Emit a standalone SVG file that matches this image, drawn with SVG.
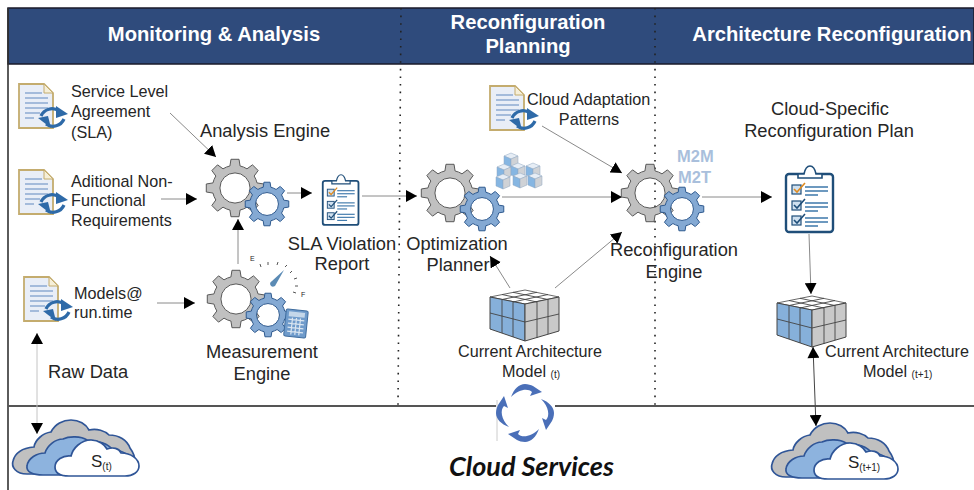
<svg xmlns="http://www.w3.org/2000/svg" xmlns:xlink="http://www.w3.org/1999/xlink" width="974" height="490" viewBox="0 0 974 490">
<style>
text{font-family:"Liberation Sans",Arial,sans-serif;fill:#262626;font-size:15px}
.c{text-anchor:middle}
.h{font-weight:bold;font-size:20.2px;fill:#fff;text-anchor:middle}
.l{font-size:16.2px}
.e{font-size:18.3px}
.sub{font-size:10px}
.conn line{stroke:#8a8a8a;stroke-width:1;marker-end:url(#ah)}
.conn .dbl{marker-start:url(#ahs)}
#gear{vector-effect:non-scaling-stroke}
.gr{fill:#c0c0c0;stroke:#595959;stroke-width:1;fill-rule:evenodd}
.gb{fill:#84a9d3;stroke:#2f5a8f;stroke-width:1;fill-rule:evenodd}
.dot{stroke:#222;stroke-width:1.6;stroke-dasharray:1.6 6;fill:none}
.dl{stroke:#7fa0cc;stroke-width:1.3}
</style>
<defs>
<marker id="ah" markerUnits="userSpaceOnUse" markerWidth="12" markerHeight="12" refX="11" refY="6" orient="auto"><path d="M0,0L11,6L0,12Z" fill="#000"/></marker>
<marker id="ahs" markerUnits="userSpaceOnUse" markerWidth="12" markerHeight="12" refX="0" refY="6" orient="auto"><path d="M11,0L0,6L11,12Z" fill="#000"/></marker>
<path id="gear" d="M-13.9,-99L13.9,-99L17.5,-76A78,78 0 0 1 41.3,-66.1L60.2,-79.9L79.9,-60.2L66.1,-41.3A78,78 0 0 1 76,-17.5L99,-13.9L99,13.9L76,17.5A78,78 0 0 1 66.1,41.3L79.9,60.2L60.2,79.9L41.3,66.1A78,78 0 0 1 17.5,76L13.9,99L-13.9,99L-17.5,76A78,78 0 0 1 -41.3,66.1L-60.2,79.9L-79.9,60.2L-66.1,41.3A78,78 0 0 1 -76,17.5L-99,13.9L-99,-13.9L-76,-17.5A78,78 0 0 1 -66.1,-41.3L-79.9,-60.2L-60.2,-79.9L-41.3,-66.1A78,78 0 0 1 -17.5,-76ZM52,0A52,52 0 1 0 -52,0A52,52 0 1 0 52,0Z"/>
<g id="gears">
<use href="#gear" class="gr" transform="scale(.29)"/>
<use href="#gear" class="gb" transform="translate(32,16) scale(.22)"/>
</g>
<g id="doc">
<path d="M1,1H26L35,10V45H1Z" fill="#e9eef7" stroke="#c4ac6e" stroke-width="1.800"/>
<path d="M26,1V10H35Z" fill="#f6efd8" stroke="#c4ac6e" stroke-width="1"/>
<line class="dl" x1="7" y1="10" x2="24" y2="10"/><line class="dl" x1="7" y1="15" x2="30" y2="15"/><line class="dl" x1="7" y1="20" x2="30" y2="20"/><line class="dl" x1="7" y1="25" x2="30" y2="25"/><line class="dl" x1="7" y1="30" x2="22" y2="30"/><line class="dl" x1="7" y1="35" x2="16" y2="35"/>
<path d="M23,33A12,12 0 0 1 41,28" fill="none" stroke="#2e6aa8" stroke-width="3.200"/>
<path d="M38,23L50,31L38,35Z" fill="#2e6aa8"/>
<path d="M46,36A12,12 0 0 1 28,41" fill="none" stroke="#2e6aa8" stroke-width="3.200"/>
<path d="M33,45L20,35L30,33Z" fill="#2e6aa8"/>
</g>
<g id="clip">
<rect x="1" y="9" width="47" height="58" rx="3" fill="#fff" stroke="#1f4e79" stroke-width="2.400"/>
<path d="M13,9H19C20,4 22,1 25,1C28,1 30,4 31,9H37V13H13Z" fill="#fff" stroke="#1f4e79" stroke-width="1.600"/>
<g fill="#cfe0ef" stroke="#1f4e79" stroke-width="1.200"><rect x="7" y="20" width="9" height="9"/><rect x="7" y="36" width="9" height="9"/><rect x="7" y="51" width="9" height="9"/></g>
<path d="M9,24L12,27L20,18" fill="none" stroke="#e08a1e" stroke-width="1.600"/><path d="M9,40L12,43L20,34" fill="none" stroke="#1f4e79" stroke-width="1.600"/><path d="M9,55L12,58L20,49" fill="none" stroke="#1f4e79" stroke-width="1.600"/>
<g stroke="#2e6da4" stroke-width="1.400"><line x1="20" y1="22" x2="43" y2="22"/><line x1="20" y1="26" x2="43" y2="26"/><line x1="20" y1="30" x2="33" y2="30"/><line x1="20" y1="38" x2="43" y2="38"/><line x1="20" y1="42" x2="43" y2="42"/><line x1="20" y1="46" x2="33" y2="46"/><line x1="20" y1="53" x2="43" y2="53"/><line x1="20" y1="57" x2="43" y2="57"/><line x1="20" y1="61" x2="33" y2="61"/></g>
</g>
<g id="cube">
<path d="M35,0L69,7L35,14L0,7Z" fill="#fff" stroke="#444" stroke-width=".8"/>
<path d="M0,7L35,14V51L0,39Z" fill="#86b0da" stroke="#444" stroke-width="1"/>
<path d="M35,14L69,7V41L35,51Z" fill="#c9c9c9" stroke="#444" stroke-width="1"/>
<g fill="none" stroke="#444" stroke-width=".9"><path d="M12,9.500V43M23,12V47M47,12V48M58,9V44M0,23L35,32L69,24"/><path d="M12,4.500L47,12M23,2.300L58,9.500M23,12L58,4.500M12,9.500L47,2.300"/></g>
</g>
<g id="mini">
<path d="M0,3L7,0L14,3L7,6Z" fill="#e6edf5" stroke="#8ea6c0" stroke-width=".5"/>
<path d="M0,3L7,6V15L0,12Z" fill="#86b6e2" stroke="#8ea6c0" stroke-width=".5"/>
<path d="M7,6L14,3V12L7,15Z" fill="#cfd2d6" stroke="#8ea6c0" stroke-width=".5"/>
</g>
<g id="cloud">
<path d="M14,54C3,54 -2,47 0,41C2,33 10,28 21,27C22,20 30,13 38,12C42,4 50,0 58,0C66,0 73,4 76,10C84,8 92,11 96,15C106,15 114,20 117,28C120,32 122,36 122,42L60,54Z" fill="#c0c0c0" stroke="#2f5597" stroke-width="1.700"/>
<path d="M30,55C20,55 13,52 14,46C15,38 24,33 32,33C34,26 42,19 50,19C56,16 68,16 74,20C84,20 96,24 100,30C110,30 118,36 118,42L80,55Z" fill="#8db3de" stroke="#2f5597" stroke-width="1.700"/>
<path d="M56,56C46,56 42,52 42,47C42,40 50,35 58,36C60,28 68,20 78,20C86,20 92,25 94,29C100,27 106,28 108,33C118,33 126,39 126,46C126,52 120,56 112,56Z" fill="#fff" stroke="#2f5597" stroke-width="1.700"/>
</g>
<path id="cyc" d="M-14,-16C-11,-24 -6,-29 0,-29C3,-29 6,-28 8,-27L17,-21L5,-17L7,-21C3,-25 -6,-24 -14,-16Z" fill="#4a6fb8"/>
</defs>

<g id="frame">
<rect x="8" y="8" width="966" height="56" fill="#2f4b7c" stroke="#1a1a2a" stroke-width="1.500"/>
<path d="M8,8V490" stroke="#333" stroke-width="1.600" fill="none"/>
<path d="M8,406H496M555,406H974" stroke="#555" stroke-width="2" fill="none"/>
<path d="M497,400V441" stroke="#ccc" stroke-width="1" fill="none"/>
<path class="dot" d="M401,8L398,405M655,8V405"/>
<text class="h" x="214" y="41">Monitoring &amp; Analysis</text>
<text class="h" x="528" y="29">Reconfiguration</text>
<text class="h" x="528" y="53">Planning</text>
<text class="h" x="832" y="41">Architecture Reconfiguration</text>
</g>

<g id="connectors" class="conn">
<line x1="170" y1="113" x2="216" y2="157"/>
<line x1="161" y1="199" x2="197" y2="199"/>
<line x1="287" y1="193" x2="312" y2="193"/>
<line x1="238" y1="264" x2="238" y2="219"/>
<line x1="157" y1="303" x2="195" y2="303"/>
<line class="dbl" x1="37" y1="333" x2="37" y2="434" style="stroke:#c4c4c4"/>
<line x1="362" y1="196" x2="417" y2="196"/>
<line x1="502" y1="197" x2="622" y2="197"/>
<line x1="542" y1="126" x2="622" y2="173"/>
<line x1="510" y1="288" x2="490" y2="256"/>
<line x1="555" y1="288" x2="622" y2="232"/>
<line x1="702" y1="197" x2="772" y2="197"/>
<line x1="809" y1="234" x2="811" y2="294"/>
<line class="dbl" x1="813" y1="347" x2="816" y2="426" style="stroke:#444"/>
</g>

<g id="sla"><use href="#doc" x="18" y="83"/><text class="l" x="71" y="97">Service Level</text><text class="l" x="71" y="117">Agreement</text><text class="l" x="71" y="138">(SLA)</text></g>
<g id="nfr"><use href="#doc" x="18" y="169"/><text class="l" x="71" y="187">Aditional Non-</text><text class="l" x="71" y="206">Functional</text><text class="l" x="71" y="226">Requirements</text></g>
<g id="models"><use href="#doc" x="23" y="276"/><text class="l" x="74" y="299">Models@</text><text class="l" x="74" y="318">run.time</text></g>
<g id="raw-data"><text class="e" x="48" y="378">Raw Data</text></g>

<g id="analysis-engine"><use href="#gears" x="235" y="188"/><text class="e" x="200" y="137">Analysis Engine</text></g>
<g id="measurement-engine">
<use href="#gears" x="236" y="299"/>
<path d="M260,264l1,3M268,262l0,3M278,262l-1,3M287,265l-2,2M292,271l-2,2M297,278l-3,1M298,286l-3,0M296,293l-3,-1" stroke="#555" stroke-width="1" fill="none"/>
<text x="250" y="261" style="font-size:7px">E</text><text x="301" y="297" style="font-size:7px">F</text>
<path d="M284,270L275,286Q271,288 270,284Q270,282 272,281Z" fill="#5b8bb5"/>
<g transform="rotate(6 296 323)"><rect x="285" y="310" width="22" height="27" rx="1.500" fill="#6f9bcb" stroke="#3e6c9e" stroke-width="1"/><rect x="288" y="312" width="16" height="5" fill="#c4d7ea"/><path d="M288,320H304M288,324H304M288,328H304M288,332H304M292,318V335M296,318V335M300,318V335" stroke="#dbe6f1" stroke-width="1.200" fill="none"/></g>
<text class="e c" x="262" y="358">Measurement</text><text class="e c" x="262" y="380">Engine</text>
</g>
<g id="sla-report"><use href="#clip" transform="translate(322,174) scale(.76)"/><text class="e c" x="342" y="250">SLA Violation</text><text class="e c" x="342" y="270">Report</text></g>
<g id="optimization-planner">
<use href="#gears" x="450" y="193"/>
<use href="#mini" x="504" y="153"/><use href="#mini" x="526" y="163"/><use href="#mini" x="497" y="164"/><use href="#mini" x="511" y="163"/><use href="#mini" x="496" y="174"/><use href="#mini" x="513" y="173"/><use href="#mini" x="528" y="173"/>
<text class="e c" x="457" y="250">Optimization</text><text class="e c" x="458" y="271">Planner</text>
</g>
<g id="patterns"><use href="#doc" x="489" y="85"/><text class="l" x="527" y="105">Cloud Adaptation</text><text class="l c" x="589" y="125">Patterns</text></g>
<g id="reconfiguration-engine">
<use href="#gears" x="650" y="193"/>
<text x="677" y="162" style="font-size:16.500px;font-weight:bold;fill:#a9bfdc">M2M</text><text x="678" y="183" style="font-size:16.500px;font-weight:bold;fill:#a9bfdc">M2T</text>
<text class="e c" x="674" y="256">Reconfiguration</text><text class="e c" x="674" y="278">Engine</text>
</g>
<g id="current-model"><use href="#cube" x="490" y="290"/><text class="l c" x="530" y="357">Current Architecture</text><text class="l" x="502" y="377">Model <tspan class="sub" dy="1">(t)</tspan></text></g>
<g id="reconfiguration-plan"><use href="#clip" x="785" y="165"/><text class="e c" x="830" y="115">Cloud-Specific</text><text class="e c" x="829" y="137">Reconfiguration Plan</text></g>
<g id="next-model"><use href="#cube" x="777" y="296"/><text class="l" x="825" y="357">Current Architecture</text><text class="l" x="863" y="377">Model <tspan class="sub" dy="1">(t+1)</tspan></text></g>
<g id="cloud-t"><use href="#cloud" x="13" y="420"/><text x="91" y="467" style="font-size:17px">S<tspan class="sub" dy="3">(t)</tspan></text></g>
<g id="cloud-t1"><use href="#cloud" x="772" y="423"/><text x="848" y="468" style="font-size:17px">S<tspan class="sub" dy="3">(t+1)</tspan></text></g>
<g id="cloud-services">
<g transform="translate(525,413)"><use href="#cyc"/><use href="#cyc" transform="rotate(90)"/><use href="#cyc" transform="rotate(180)"/><use href="#cyc" transform="rotate(270)"/></g>
<text x="449" y="476" style="font-family:Lato,'Liberation Sans',sans-serif;font-weight:bold;font-style:italic;font-size:27px;fill:#111">Cloud Services</text>
</g>
</svg>
